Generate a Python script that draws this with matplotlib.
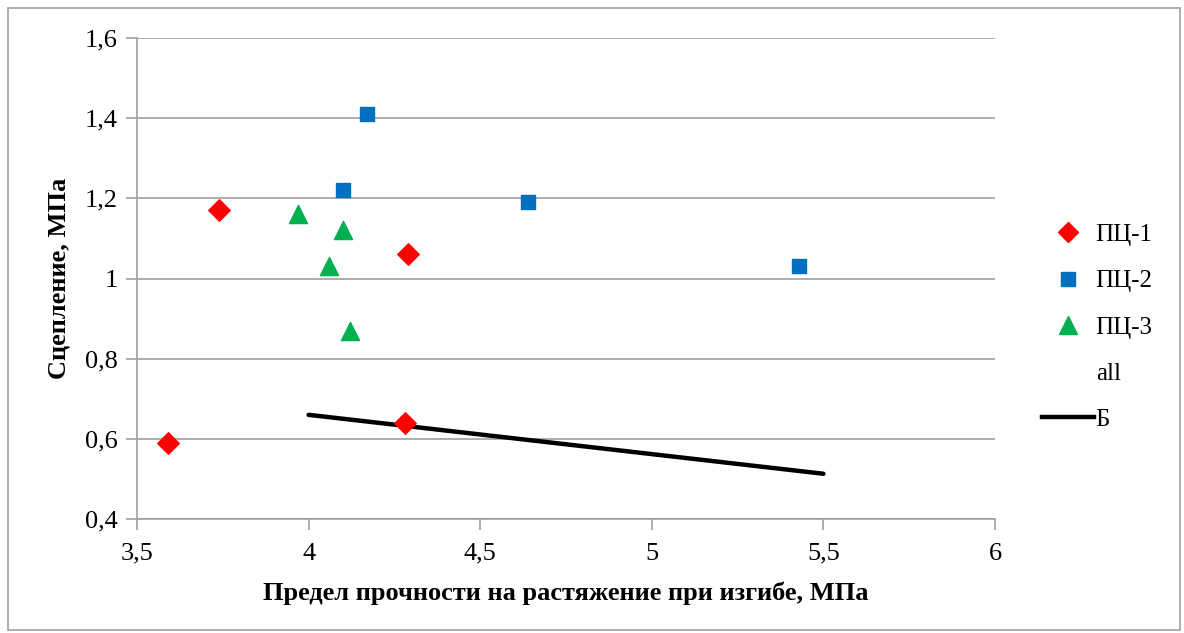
import matplotlib.pyplot as plt
from matplotlib.lines import Line2D
from matplotlib.patches import Rectangle

plt.rcParams['font.family'] = ['Liberation Serif', 'DejaVu Serif']

# data
pc1_x = [3.59, 3.74, 4.29, 4.28]
pc1_y = [0.59, 1.17, 1.06, 0.64]
pc2_x = [4.17, 4.10, 4.64, 5.43]
pc2_y = [1.41, 1.22, 1.19, 1.03]
pc3_x = [3.97, 4.10, 4.06, 4.12]
pc3_y = [1.16, 1.12, 1.03, 0.87]
b_x = [4.0, 5.5]
b_y = [0.66, 0.513]

x_ticks = [3.5, 4, 4.5, 5, 5.5, 6]
y_ticks = [0.4, 0.6, 0.8, 1.0, 1.2, 1.4, 1.6]

def fmt(v):
    s = ('%g' % v).replace('.', ',')
    return s

fig = plt.figure(figsize=(11.84, 6.33), dpi=100)
ax = fig.add_axes([0.1157, 0.18, 0.7247, 0.76])

ax.scatter(pc1_x, pc1_y, marker='D', s=120, color='#ff0000', zorder=3)
ax.scatter(pc2_x, pc2_y, marker='s', s=110, color='#0070c0', zorder=3)
ax.scatter(pc3_x, pc3_y, marker='^', s=170, color='#00b050', zorder=3)
ax.plot(b_x, b_y, color='black', linewidth=3.2, solid_capstyle='round', zorder=2)

ax.set_xlim(3.5, 6)
ax.set_ylim(0.4, 1.6)
ax.set_xticks(x_ticks)
ax.set_yticks(y_ticks)
ax.set_xticklabels([fmt(v) for v in x_ticks])
ax.set_yticklabels([fmt(v) for v in y_ticks])
ax.tick_params(labelsize=19, color='#a0a0a0', length=8, width=1.2, pad=6)
ax.tick_params(axis='x', pad=9)
ax.grid(axis='y', color='#a0a0a0', linewidth=1.2)
ax.set_axisbelow(True)
for sp in ['top', 'right']:
    ax.spines[sp].set_visible(False)
for sp in ['left', 'bottom']:
    ax.spines[sp].set_color('#a0a0a0')
    ax.spines[sp].set_linewidth(1.2)

ax.set_xlabel('Предел прочности на растяжение при изгибе, МПа', fontsize=19, fontweight='bold', labelpad=12)
ax.set_ylabel('Сцепление, МПа', fontsize=19, fontweight='bold', labelpad=10)

handles = [
    Line2D([], [], marker='D', color='#ff0000', linestyle='none', markersize=10),
    Line2D([], [], marker='s', color='#0070c0', linestyle='none', markersize=9.5),
    Line2D([], [], marker='^', color='#00b050', linestyle='none', markersize=13),
    Line2D([], [], linestyle='none', marker='none'),
    Line2D([], [], color='black', linewidth=3.2),
]
labels = ['ПЦ-1', 'ПЦ-2', 'ПЦ-3', 'all', 'Б']
fig.legend(handles, labels, loc='center left', bbox_to_anchor=(0.861, 0.483),
           frameon=False, fontsize=18, labelspacing=0.95, handlelength=2.1,
           handletextpad=0.05)

fig.patches.append(Rectangle((0.007, 0.005), 0.99, 0.982, transform=fig.transFigure,
                             fill=False, edgecolor='#a0a0a0', linewidth=1.2))

fig.savefig('out.png', dpi=100)
